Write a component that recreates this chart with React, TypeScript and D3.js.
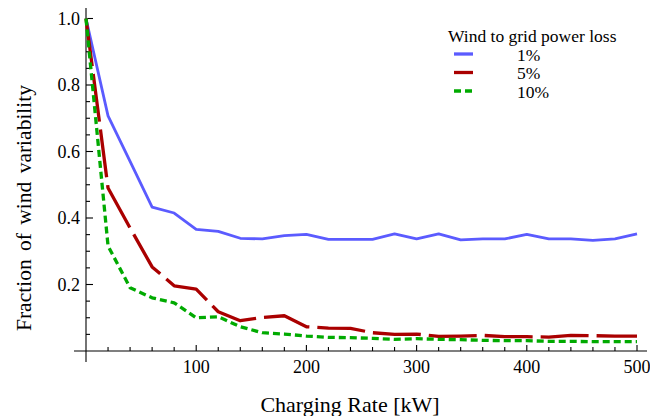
import React, { useEffect, useRef } from 'react';
import * as d3 from 'd3';

// charging rate in kW
const rates = [0, 20, 40, 60, 80, 100, 120, 140, 160, 180, 200, 220, 240, 260, 280, 300, 320, 340, 360, 380, 400, 420, 440, 460, 480, 500];

const loss1 = [1.0, 0.707, 0.57, 0.433, 0.415, 0.366, 0.360, 0.339, 0.337, 0.347, 0.351, 0.336, 0.336, 0.336, 0.352, 0.337, 0.352, 0.334, 0.337, 0.337, 0.351, 0.337, 0.337, 0.333, 0.337, 0.352];
const loss5 = [1.0, 0.49, 0.37, 0.253, 0.196, 0.186, 0.118, 0.091, 0.101, 0.106, 0.073, 0.069, 0.068, 0.055, 0.050, 0.051, 0.044, 0.045, 0.047, 0.043, 0.043, 0.042, 0.047, 0.046, 0.045, 0.045];
const loss10 = [1.0, 0.316, 0.19, 0.16, 0.145, 0.10, 0.103, 0.073, 0.055, 0.051, 0.045, 0.041, 0.040, 0.038, 0.035, 0.037, 0.035, 0.034, 0.032, 0.031, 0.031, 0.029, 0.029, 0.028, 0.028, 0.028];

const seriesNames = ['1%', '5%', '10%'];
const legendTitle = 'Wind to grid power loss';
const xTicks = [100, 200, 300, 400, 500];
const yTicks = [0.2, 0.4, 0.6, 0.8, 1.0];

const colors = ['#5b5bff', '#aa0000', '#00aa00'];
const dashes = ['none', '48,8', '7,4'];

const W = 650;
const H = 416;
const font = '"Liberation Serif", "Times New Roman", serif';

export default function App() {
  const ref = useRef<SVGSVGElement>(null);

  useEffect(() => {
    const svg = d3.select(ref.current);
    svg.selectAll('*').remove();

    const x = d3.scaleLinear().domain([0, 500]).range([86, 637]);
    const y = d3.scaleLinear().domain([0, 1]).range([351, 18.5]);

    const axes = svg.append('g').attr('stroke', '#000').attr('stroke-width', 1.1);

    // axis lines, Mathematica style crossing at the origin
    axes.append('line').attr('x1', 74).attr('x2', 647).attr('y1', y(0)).attr('y2', y(0));
    axes.append('line').attr('x1', x(0)).attr('x2', x(0)).attr('y1', 8).attr('y2', 362);

    // x ticks
    const xMinor = d3.range(20, 501, 20);
    axes.selectAll('.xt').data(xMinor).enter().append('line')
      .attr('x1', d => x(d)).attr('x2', d => x(d))
      .attr('y1', y(0)).attr('y2', d => y(0) - (d % 100 === 0 ? 6 : 4));

    // y ticks
    const yMinor = d3.range(1, 21).map(i => i * 0.05);
    axes.selectAll('.yt').data(yMinor).enter().append('line')
      .attr('y1', d => y(d)).attr('y2', d => y(d))
      .attr('x1', x(0)).attr('x2', d => x(0) + (Math.round(d * 20) % 4 === 0 ? 7 : 4));

    svg.selectAll('.xl').data(xTicks).enter().append('text')
      .attr('x', d => x(d)).attr('y', 373)
      .attr('text-anchor', 'middle')
      .attr('font-family', font).attr('font-size', 18)
      .text(d => d);

    svg.selectAll('.yl').data(yTicks).enter().append('text')
      .attr('x', 80).attr('y', d => y(d) + 6)
      .attr('text-anchor', 'end')
      .attr('font-family', font).attr('font-size', 18)
      .text(d => d.toFixed(1));

    svg.append('text')
      .attr('x', 350).attr('y', 412)
      .attr('text-anchor', 'middle')
      .attr('font-family', font).attr('font-size', 22)
      .text('Charging Rate [kW]');

    svg.append('text')
      .attr('transform', 'translate(31,208) rotate(-90)')
      .attr('text-anchor', 'middle')
      .attr('font-family', font).attr('font-size', 21.5)
      .attr('word-spacing', 3)
      .text('Fraction of wind variability');

    const line = d3.line<number>()
      .x((d, i) => x(rates[i]))
      .y(d => y(d));

    [loss1, loss5, loss10].forEach((s, i) => {
      svg.append('path')
        .datum(s)
        .attr('d', line)
        .attr('fill', 'none')
        .attr('stroke', colors[i])
        .attr('stroke-width', i === 0 ? 2.8 : 3.3)
        .attr('stroke-dasharray', dashes[i])
        .attr('stroke-linejoin', 'round');
    });

    // legend
    svg.append('text')
      .attr('x', 448).attr('y', 42)
      .attr('font-family', font).attr('font-size', 17.5)
      .text(legendTitle);

    seriesNames.forEach((name, i) => {
      const yy = 54 + i * 18.5;
      svg.append('line')
        .attr('x1', 454).attr('x2', 473)
        .attr('y1', yy).attr('y2', yy)
        .attr('stroke', colors[i])
        .attr('stroke-width', 3.3)
        .attr('stroke-dasharray', i === 2 ? '7,4' : 'none');
      svg.append('text')
        .attr('x', 517).attr('y', yy + 6.5)
        .attr('font-family', font).attr('font-size', 17.5)
        .text(name);
    });
  }, []);

  return (
    <svg ref={ref} width={W} height={H}
      style={{ position: 'absolute', left: 0, top: 0, background: '#fff' }} />
  );
}
